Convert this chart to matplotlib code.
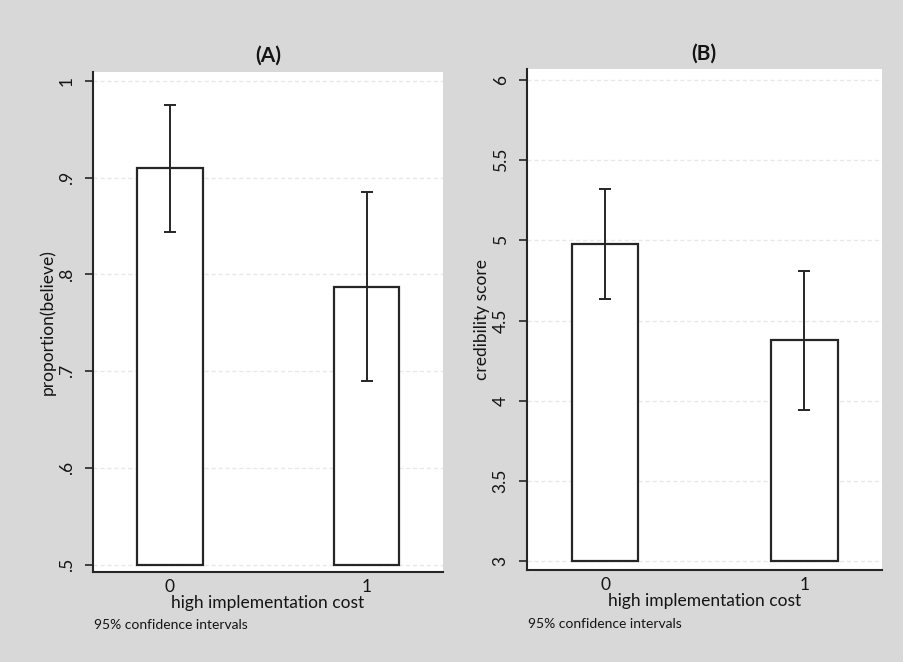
import matplotlib
matplotlib.use("Agg")
import matplotlib.pyplot as plt

# Data
categories = [0, 1]
cat_labels = ["0", "1"]
prop_believe = [0.910, 0.787]
prop_lo = [0.844, 0.690]
prop_hi = [0.975, 0.885]
cred_score = [4.978, 4.377]
cred_lo = [4.636, 3.944]
cred_hi = [5.322, 4.808]

a_ticks = [0.5, 0.6, 0.7, 0.8, 0.9, 1.0]
a_ticklabels = [".5", ".6", ".7", ".8", ".9", "1"]
b_ticks = [3, 3.5, 4, 4.5, 5, 5.5, 6]
b_ticklabels = ["3", "3.5", "4", "4.5", "5", "5.5", "6"]

plt.rcParams['font.family'] = ['Lato', 'DejaVu Sans']
plt.rcParams['text.color'] = '#141414'
plt.rcParams['axes.labelcolor'] = '#141414'
plt.rcParams['xtick.color'] = '#141414'
plt.rcParams['ytick.color'] = '#141414'

BG = "#d8d8d8"
EDGE = "#262626"
fig = plt.figure(figsize=(9.04, 6.62), dpi=100, facecolor=BG)

W, H = 904, 662
def axes_px(l, r, t, b):
    return [l / W, 1 - b / H, (r - l) / W, (b - t) / H]

panels = [
    dict(rect=axes_px(92.7, 443, 71.7, 571.7), vals=prop_believe, lo=prop_lo, hi=prop_hi,
         base=0.5, ylim=(0.4926, 1.0097), ticks=a_ticks, tlabels=a_ticklabels,
         ylabel="proportion(believe)", title="(A)"),
    dict(rect=axes_px(526.7, 881.7, 69.3, 570), vals=cred_score, lo=cred_lo, hi=cred_hi,
         base=3.0, ylim=(2.944, 6.067), ticks=b_ticks, tlabels=b_ticklabels,
         ylabel="credibility score", title="(B)"),
]

for p in panels:
    ax = fig.add_axes(p["rect"])
    ax.set_facecolor("white")
    heights = [v - p["base"] for v in p["vals"]]
    yerr = [[v - l for v, l in zip(p["vals"], p["lo"])],
            [h - v for v, h in zip(p["vals"], p["hi"])]]
    ax.bar(categories, heights, bottom=p["base"], width=0.333, color="white",
           edgecolor=EDGE, linewidth=1.6, zorder=3)
    ax.errorbar(categories, p["vals"], yerr=yerr, fmt="none", ecolor=EDGE,
                elinewidth=1.4, capsize=4, capthick=1.4, zorder=4)
    ax.set_xlim(-0.393, 1.388)
    ax.set_ylim(*p["ylim"])
    ax.set_yticks(p["ticks"])
    ax.set_yticklabels(p["tlabels"], rotation=90, va="center", fontsize=12.5)
    ax.set_xticks(categories)
    ax.set_xticklabels(cat_labels, fontsize=12.5)
    ax.tick_params(axis="x", length=0, pad=5)
    ax.tick_params(axis="y", length=6, width=1.2, color=EDGE, pad=7)
    for s in ["top", "right"]:
        ax.spines[s].set_visible(False)
    for s in ["left", "bottom"]:
        ax.spines[s].set_color(EDGE)
        ax.spines[s].set_linewidth(1.5)
    ax.grid(axis="y", color="#e8e8e8", linewidth=1.0, linestyle=(0, (3, 2)), zorder=0)
    ax.set_axisbelow(True)
    ax.set_ylabel(p["ylabel"], fontsize=12.5, labelpad=2)
    ax.set_xlabel("high implementation cost", fontsize=12.5, labelpad=0)
    ax.set_title(p["title"], fontsize=15, fontweight="bold", pad=7)
    ax.text(0.005, -0.095, "95% confidence intervals", transform=ax.transAxes,
            fontsize=10, ha="left", va="top")

fig.savefig("out.png", dpi=100, facecolor=BG)
